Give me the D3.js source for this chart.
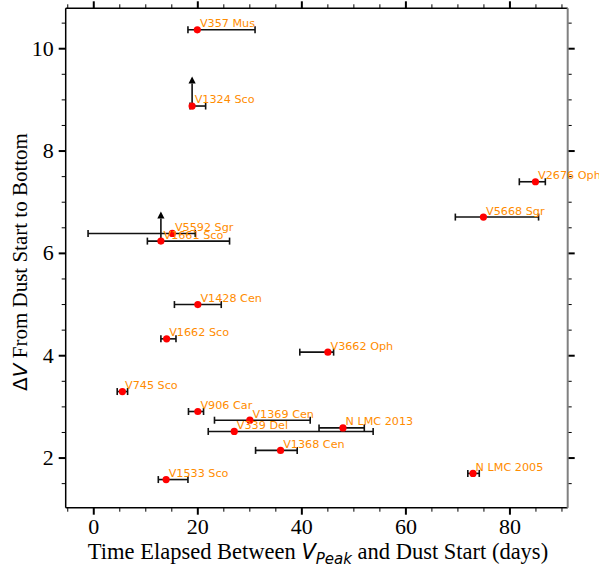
<!DOCTYPE html>
<html>
<head>
<meta charset="utf-8">
<script src="https://cdn.jsdelivr.net/npm/d3@7"></script>
<style>
  html, body { margin: 0; padding: 0; background: #fff; }
  svg { display: block; }
</style>
</head>
<body>
<svg id="chart" width="599" height="568"></svg>
<script>
// ---- data ----
const names = ["V357 Mus","V1324 Sco","V5592 Sgr","V1661 Sco","V1428 Cen","V1662 Sco","V3662 Oph","V745 Sco","V906 Car","V1369 Cen","V339 Del","N LMC 2013","V1368 Cen","V1533 Sco","N LMC 2005","V2676 Oph","V5668 Sgr"];
const tElapsed = [20.0, 19.0, 15.2, 13.0, 20.1, 14.1, 45.1, 5.6, 20.1, 30.1, 27.1, 48.0, 36.0, 14.0, 73.0, 85.0, 75.0];
const deltaV   = [10.36, 8.87, 6.38, 6.23, 4.99, 4.32, 4.06, 3.29, 2.90, 2.73, 2.51, 2.58, 2.14, 1.57, 1.69, 7.39, 6.70];
const tErrLow  = [1.8, 0.4, 16.2, 2.6, 4.5, 1.1, 5.4, 1.0, 1.8, 6.8, 5.0, 4.6, 4.8, 1.5, 1.0, 3.1, 5.4];
const tErrHigh = [11.1, 2.6, 4.4, 13.2, 4.5, 1.8, 1.1, 1.0, 1.1, 11.6, 26.7, 4.1, 3.2, 4.2, 1.2, 1.9, 10.6];
const lowerLimit = [false, true, false, true, false, false, false, false, false, false, false, false, false, false, false, false, false];
const limitLength = 0.5;
const xTicks = [0, 20, 40, 60, 80];
const yTicks = [2, 4, 6, 8, 10];
const xDomain = [-5.3, 91.2];
const yDomain = [1.02, 10.78];

// ---- layout ----
const L = 65.7, R = 567.7, T = 8.3, B = 507.7;
const svg = d3.select("#chart");
const x = d3.scaleLinear().domain(xDomain).range([L, R]);
const y = d3.scaleLinear().domain(yDomain).range([B, T]);

const serif = "'Liberation Serif','Times New Roman',Times,serif";
const sans = "'DejaVu Sans',sans-serif";

const xMinor = d3.range(-5, 92, 5).filter(v => v >= xDomain[0] && v <= xDomain[1] && !xTicks.includes(v));
const yMinor = d3.range(1.5, 10.8, 0.5).filter(v => v >= yDomain[0] && v <= yDomain[1] && !yTicks.includes(v));

function styleAxis(g, major) {
  g.select(".domain").remove();
  g.selectAll(".tick line").attr("stroke", "#000").attr("stroke-width", major ? 2 : 1);
}

// bottom
svg.append("g").attr("transform", `translate(0,${B})`)
  .call(d3.axisBottom(x).tickValues(xTicks).tickSize(7).tickPadding(4).tickFormat(d3.format("d")))
  .call(g => styleAxis(g, true))
  .call(g => g.selectAll("text").attr("font-family", serif).attr("font-size", 22).attr("fill", "#000"));
svg.append("g").attr("transform", `translate(0,${B})`)
  .call(d3.axisBottom(x).tickValues(xMinor).tickSize(4).tickFormat(""))
  .call(g => styleAxis(g, false));
// top
svg.append("g").attr("transform", `translate(0,${T})`)
  .call(d3.axisTop(x).tickValues(xTicks).tickSize(7).tickFormat(""))
  .call(g => styleAxis(g, true));
svg.append("g").attr("transform", `translate(0,${T})`)
  .call(d3.axisTop(x).tickValues(xMinor).tickSize(4).tickFormat(""))
  .call(g => styleAxis(g, false));
// left
svg.append("g").attr("transform", `translate(${L},0)`)
  .call(d3.axisLeft(y).tickValues(yTicks).tickSize(7).tickPadding(5).tickFormat(d3.format("d")))
  .call(g => styleAxis(g, true))
  .call(g => g.selectAll("text").attr("font-family", serif).attr("font-size", 22).attr("fill", "#000"));
svg.append("g").attr("transform", `translate(${L},0)`)
  .call(d3.axisLeft(y).tickValues(yMinor).tickSize(4).tickFormat(""))
  .call(g => styleAxis(g, false));
// right
svg.append("g").attr("transform", `translate(${R},0)`)
  .call(d3.axisRight(y).tickValues(yTicks).tickSize(7).tickFormat(""))
  .call(g => styleAxis(g, true));
svg.append("g").attr("transform", `translate(${R},0)`)
  .call(d3.axisRight(y).tickValues(yMinor).tickSize(4).tickFormat(""))
  .call(g => styleAxis(g, false));

// spines
svg.append("line").attr("x1", L).attr("x2", R).attr("y1", T).attr("y2", T).attr("stroke", "#000").attr("stroke-width", 1.5);
svg.append("line").attr("x1", L).attr("x2", R).attr("y1", B).attr("y2", B).attr("stroke", "#000").attr("stroke-width", 1.5);
svg.append("line").attr("x1", L).attr("x2", L).attr("y1", T).attr("y2", B).attr("stroke", "#000").attr("stroke-width", 1.5);
svg.append("line").attr("x1", R).attr("x2", R).attr("y1", T).attr("y2", B).attr("stroke", "#808080").attr("stroke-width", 2);

// data rows
const rows = names.map((n, i) => ({
  name: n, t: tElapsed[i], dv: deltaV[i], lo: tErrLow[i], hi: tErrHigh[i], lim: lowerLimit[i]
}));

const eb = svg.append("g").attr("stroke", "#111").attr("stroke-width", 1.6);
rows.forEach(d => {
  const yy = y(d.dv);
  eb.append("line").attr("x1", x(d.t - d.lo)).attr("x2", x(d.t + d.hi)).attr("y1", yy).attr("y2", yy);
  [d.t - d.lo, d.t + d.hi].forEach(v => {
    eb.append("line").attr("x1", x(v)).attr("x2", x(v)).attr("y1", yy - 3.5).attr("y2", yy + 3.5);
  });
  if (d.lim) {
    const yc = y(d.dv + limitLength);
    eb.append("line").attr("x1", x(d.t)).attr("x2", x(d.t)).attr("y1", yy).attr("y2", yc + 3);
    svg.append("path")
      .attr("d", `M${x(d.t)},${yc - 4} L${x(d.t) + 3.6},${yc + 3} L${x(d.t) - 3.6},${yc + 3} Z`)
      .attr("fill", "#000");
  }
});

svg.append("g").selectAll("circle").data(rows).join("circle")
  .attr("cx", d => x(d.t)).attr("cy", d => y(d.dv)).attr("r", 3.6).attr("fill", "#ff0000");

svg.append("g").selectAll("text").data(rows).join("text")
  .attr("x", d => x(d.t + 0.5)).attr("y", d => y(d.dv + 0.05))
  .attr("font-family", sans).attr("font-size", 11.2).attr("fill", "#ff8c00")
  .text(d => d.name);

// axis labels
const xl = svg.append("text").attr("x", 318).attr("y", 559).attr("text-anchor", "middle")
  .attr("font-family", serif).attr("font-size", 22.5).attr("fill", "#000");
xl.append("tspan").text("Time Elapsed Between ");
xl.append("tspan").attr("font-family", sans).attr("font-style", "italic").attr("font-size", 21).text("V");
xl.append("tspan").attr("font-family", sans).attr("font-style", "italic").attr("font-size", 15).attr("dy", 4.5).text("Peak");
xl.append("tspan").attr("dy", -4.5).text(" and Dust Start (days)");

const yl = svg.append("text").attr("transform", `translate(27,262) rotate(-90)`).attr("text-anchor", "middle")
  .attr("font-family", serif).attr("font-size", 21).attr("fill", "#000");
yl.append("tspan").attr("font-family", sans).attr("font-size", 20).text("Δ");
yl.append("tspan").attr("font-family", sans).attr("font-style", "italic").attr("font-size", 20).text("V");
yl.append("tspan").text(" From Dust Start to Bottom");
</script>
</body>
</html>
